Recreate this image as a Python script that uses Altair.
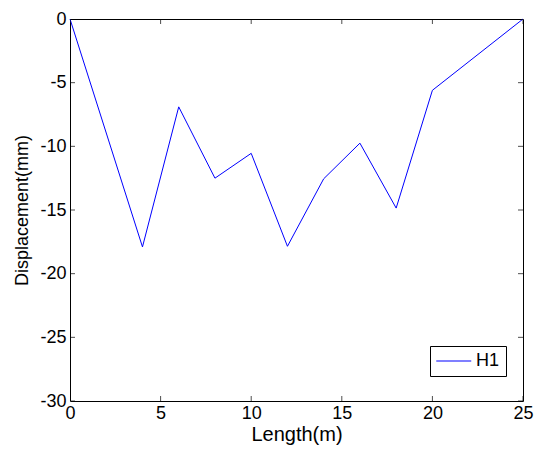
import altair as alt
import pandas as pd

# Data
lengths = [0, 4, 6, 8, 10, 12, 14, 16, 18, 20, 25]
displacement = [0, -17.9, -6.9, -12.5, -10.55, -17.85, -12.55, -9.75, -14.85, -5.6, 0]
series = ["H1"] * len(lengths)

x_ticks = [0, 5, 10, 15, 20, 25]
y_ticks = [-30, -25, -20, -15, -10, -5, 0]

df = pd.DataFrame({"Length": lengths, "Disp": displacement, "Series": series})
xt = pd.DataFrame({"tx": x_ticks})
yt = pd.DataFrame({"ty": y_ticks})

FONT = "Liberation Sans"
XMIN, XMAX = 0, 25
YMIN, YMAX = -30, 0
XTITLE = "Length(m)"
YTITLE = "Displacement(mm)"
xscale = alt.Scale(domain=[XMIN, XMAX], nice=False, zero=False)
yscale = alt.Scale(domain=[YMIN, YMAX], nice=False)

xaxis = alt.Axis(orient="bottom", values=x_ticks, ticks=False,
                 domain=False, grid=False, labelFontSize=18, labelPadding=3,
                 labelFlush=False, labelExpr="toString(datum.value)",
                 titleFontSize=20, titlePadding=2)
yaxis = alt.Axis(orient="left", values=y_ticks, ticks=False,
                 domain=False, grid=False, labelFontSize=18, labelPadding=4,
                 labelFlush=False, labelExpr="toString(datum.value)",
                 titleFontSize=18, titlePadding=8)

main = alt.Chart(df).mark_line(strokeWidth=1).encode(
    x=alt.X("Length:Q", scale=xscale, title=XTITLE, axis=xaxis),
    y=alt.Y("Disp:Q", scale=yscale, title=YTITLE, axis=yaxis),
    color=alt.Color("Series:N", scale=alt.Scale(domain=["H1"], range=["#0000ff"]),
                    legend=alt.Legend(title=None, orient="none", legendX=360, legendY=327,
                                      strokeColor="black", fillColor="white", padding=6,
                                      symbolType="M-1,-0.07H3V0.07H-1Z", symbolSize=306,
                                      symbolFillColor="#0000ff", symbolStrokeWidth=0,
                                      symbolOpacity=1, labelFontSize=18,
                                      labelOffset=22, cornerRadius=0)),
)

def xtick(at):
    return alt.Chart(xt).mark_tick(orient="vertical", size=10, clip=True).encode(
        x=alt.X("tx:Q", scale=xscale, title=XTITLE, axis=xaxis),
        y=alt.datum(at, scale=yscale, title=YTITLE, axis=yaxis),
    )

def ytick(at):
    return alt.Chart(yt).mark_tick(orient="horizontal", size=10, clip=True).encode(
        y=alt.Y("ty:Q", scale=yscale, title=YTITLE, axis=yaxis),
        x=alt.datum(at, scale=xscale, title=XTITLE, axis=xaxis),
    )

chart = alt.layer(
    main, xtick(YMIN), xtick(YMAX), ytick(XMIN), ytick(XMAX)
).properties(
    width=453, height=382,
    autosize=alt.AutoSizeParams(type="none"),
    padding={"left": 70, "top": 19, "right": 16, "bottom": 50},
    background="white",
).configure_view(
    stroke="black", strokeWidth=1
).configure_tick(
    color="black", thickness=1
).configure_axis(
    labelColor="black", titleColor="black",
    labelFont=FONT, titleFont=FONT, titleFontWeight="normal"
).configure_legend(
    labelFont=FONT, labelColor="black"
)

chart.save("out.html", embed_options={"renderer": "svg", "actions": False})
